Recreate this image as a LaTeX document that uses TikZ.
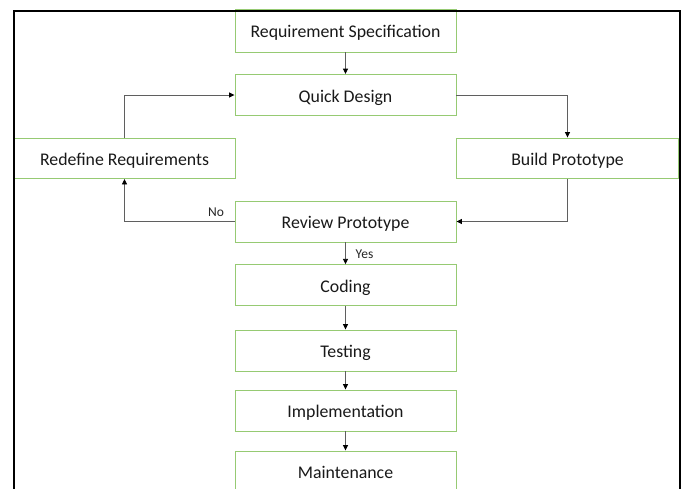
\documentclass[tikz,border=0pt]{standalone}
\usepackage{fontspec}
\setmainfont{Carlito}
\usetikzlibrary{arrows.meta}
\definecolor{boxgreen}{RGB}{150,202,115}
\definecolor{linegray}{RGB}{95,95,95}
\begin{document}
\begin{tikzpicture}[x=1pt,y=-1pt,
  stagebox/.style={draw=boxgreen,line width=0.9pt,fill=white,minimum width=221pt,minimum height=41pt,inner sep=0pt,text height=16pt,text depth=1.4pt,font=\fontsize{17.8}{20}\selectfont,text=black!90},
  conn/.style={draw=linegray,line width=0.9pt,-{Triangle[length=5.5pt,width=5pt,fill=black,color=black]}},
  lbl/.style={font=\fontsize{13.5}{15}\selectfont,text=black!85,inner sep=0pt}]
\useasboundingbox (0,0) rectangle (685,488);
\clip (0,0) rectangle (685,488);
\fill[white] (0,0) rectangle (685,488);
\node[stagebox,minimum height=43pt] (req) at (345.5,30.5) {Requirement Specification};
\node[stagebox] (qd) at (345.5,95) {Quick Design};
\node[stagebox,minimum width=221.5pt,minimum height=40.5pt] (redef) at (124.5,158.25) {Redefine Requirements};
\node[stagebox,minimum width=222.5pt,minimum height=40.5pt] (build) at (567.5,158.25) {Build Prototype};
\node[stagebox] (review) at (345.5,221.5) {Review Prototype};
\node[stagebox] (coding) at (345.5,285.25) {Coding};
\node[stagebox] (testing) at (345.5,350.5) {Testing};
\node[stagebox] (impl) at (345.5,410.5) {Implementation};
\node[stagebox] (maint) at (345.5,471.5) {Maintenance};
\draw[black,line width=2pt] (13.5,10.5) rectangle (680,520);
\draw[conn] (req.south) -- (qd.north);
\draw[conn] (redef.north) |- (qd.west);
\draw[conn] (qd.east) -| (build.north);
\draw[conn] (build.south) |- (review.east);
\draw[conn] (review.west) -| (redef.south);
\draw[conn] (review.south) -- (coding.north);
\draw[conn] (coding.south) -- (testing.north);
\draw[conn] (testing.south) -- (impl.north);
\draw[conn] (impl.south) -- (maint.north);
\node[lbl] (no) at (216,212) {No};
\node[lbl] (yes) at (364.5,254) {Yes};
\end{tikzpicture}
\end{document}
